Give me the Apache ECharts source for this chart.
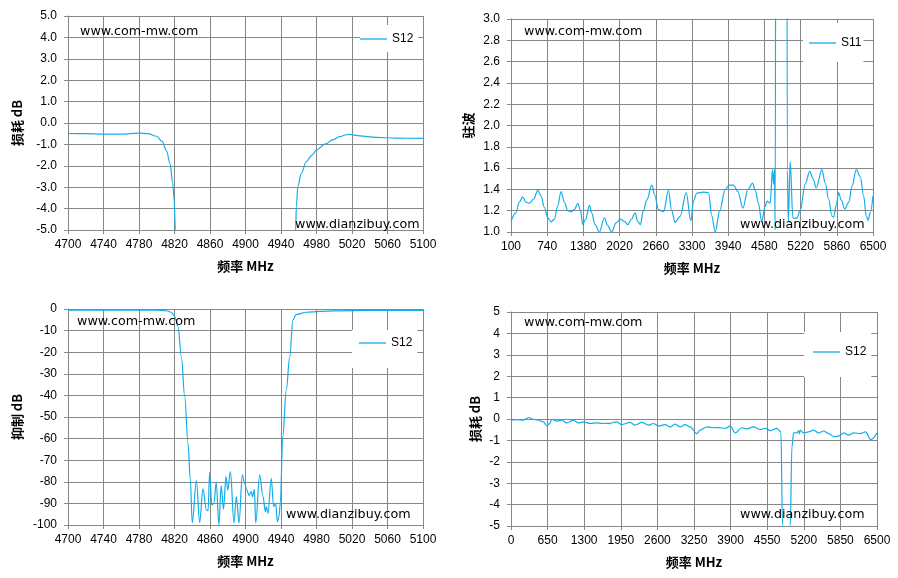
<!DOCTYPE html>
<html>
<head>
<meta charset="utf-8">
<script src="https://cdn.jsdelivr.net/npm/echarts@6/dist/echarts.min.js"></script>
<style>html,body{margin:0;padding:0;background:#fff}#c{width:898px;height:578px}</style>
</head>
<body>
<div id="c"></div>
<script>
// ---- Chart 1: S12 passband (insertion loss, dB) ----
const freq1 = [4700,4720,4740,4760,4780,4790,4800,4806,4811,4815,4818,4819.6,4821,4823,4830,4900,4950,4956.5,4957.3,4959,4963,4968.5,4975,4980,4990,4998.6,5006,5013.6,5017,5028.6,5047,5070,5100];
const loss1 = [-0.49,-0.5,-0.52,-0.52,-0.47,-0.5,-0.62,-0.86,-1.3,-1.9,-2.8,-3.6,-5.0,-8,-30,-80,-30,-5,-3.9,-2.95,-2.35,-1.8,-1.5,-1.25,-0.98,-0.78,-0.64,-0.55,-0.53,-0.6,-0.67,-0.71,-0.72];

// ---- Chart 2: S11 VSWR ----
const freq2 = [100,188,247,306,365,424,501,572,631,690,749,808,867,926,985,1044,1103,1162,1221,1280,1330,1368,1420,1486,1527,1586,1663,1751,1810,1881,1958,2034,2105,2164,2230,2294,2341,2388,2440,2501,2589,2640,2707,2796,2884,2940,3002,3091,3197,3279,3330,3386,3500,3592,3650,3710,3790,3887,3960,4034,4110,4200,4290,4371,4417,4476,4530,4594,4624,4682,4723,4741,4759,4771,4789,4968,4986,5003,5036,5084,5154,5213,5302,5381,5440,5496,5597,5656,5715,5774,5803,5850,5891,5940,6000,6071,6130,6204,6275,6334,6381,6411,6452,6500];
const vswr2 = [1.10,1.18,1.28,1.33,1.28,1.27,1.31,1.39,1.34,1.23,1.134,1.096,1.12,1.246,1.38,1.28,1.2,1.19,1.21,1.27,1.2,1.07,1.12,1.25,1.18,1.07,1.0,1.134,1.06,1.0,1.086,1.12,1.10,1.07,1.12,1.18,1.1,1.07,1.2,1.30,1.44,1.35,1.21,1.19,1.39,1.2,1.09,1.147,1.37,1.106,1.3,1.366,1.375,1.37,1.15,1.0,1.2,1.40,1.44,1.44,1.38,1.225,1.4,1.46,1.39,1.27,1.1,1.24,1.29,1.27,1.585,1.45,1.585,1.02,8,8,1.58,1.1,1.66,1.13,1.13,1.2,1.45,1.57,1.5,1.415,1.585,1.46,1.31,1.15,1.14,1.25,1.37,1.3,1.215,1.28,1.43,1.585,1.52,1.34,1.15,1.11,1.18,1.34];

// ---- Chart 3: S12 rejection (dB) ----
const freq3 = [4700,4740,4780,4800,4810.8,4816.4,4820,4824,4827.7,4831.5,4835.2,4837.8,4840,4844.6,4848.4,4852,4856,4857.8,4859.6,4862,4864.4,4867,4870,4872.6,4875.2,4878,4880,4883,4887,4889.7,4892.7,4896.4,4899,4901.6,4904,4906.5,4908,4910,4911.5,4916,4919.7,4922.4,4923.5,4925.3,4929,4931.7,4934,4935.9,4937.8,4939.2,4942,4946,4949.8,4953.5,4957,4968.5,4983.6,5000,5040,5100];
const rej3 = [-0.5,-0.5,-0.5,-0.55,-0.8,-1.5,-3.4,-8,-22,-40.5,-62,-79,-99,-79.4,-98.8,-83.3,-93,-93.5,-75.7,-90.7,-90,-80.4,-100,-81.8,-92.7,-77.6,-83.8,-75.3,-99,-86.9,-99,-76.8,-80.7,-83.8,-86.4,-84.5,-86.9,-83.5,-99,-76.8,-86.9,-93.8,-91.5,-94.6,-78.4,-91.5,-90,-98.5,-96,-90,-59,-37.4,-22,-5,-2.6,-1.5,-1.1,-0.85,-0.7,-0.6];

// ---- Chart 4: S12 wideband (insertion loss, dB) ----
const freq4 = [0,100,219,320,397,486,575,634,693,723,812,900,990,1108,1197,1286,1404,1523,1641,1760,1878,1967,2115,2204,2323,2441,2530,2619,2737,2826,2915,3004,3093,3182,3300,3360,3478,3597,3685,3804,3893,3982,4100,4189,4308,4426,4515,4604,4722,4793,4823,4850,4950,4959,4989,5019,5078,5108,5122,5137,5196,5285,5374,5463,5552,5641,5730,5819,5907,5996,6085,6204,6292,6393,6500];
const loss4 = [-0.05,-0.03,-0.05,0.07,-0.02,-0.05,-0.13,-0.32,-0.2,-0.02,-0.1,-0.05,-0.18,-0.05,-0.18,-0.13,-0.21,-0.18,-0.21,-0.2,-0.13,-0.26,-0.16,-0.29,-0.16,-0.29,-0.21,-0.33,-0.26,-0.37,-0.24,-0.37,-0.26,-0.37,-0.68,-0.52,-0.37,-0.41,-0.4,-0.44,-0.33,-0.65,-0.41,-0.46,-0.37,-0.49,-0.44,-0.55,-0.44,-0.6,-5,-40,-40,-5,-1.3,-0.65,-0.65,-0.55,-0.7,-0.52,-0.65,-0.6,-0.52,-0.65,-0.56,-0.68,-0.83,-0.8,-0.65,-0.75,-0.65,-0.68,-0.6,-0.96,-0.65];

// axis tick settings
const xMin1 = 4700, xMax1 = 5100, xStep1 = 40;
const xMin2 = 100, xMax2 = 6500, xStep2 = 640;
const xMin4 = 0, xMax4 = 6500, xStep4 = 650;

const GRID = '#868686';
const LINE = '#12AEEA';
const LATIN = 'Liberation Sans';
const CJK = 'Noto Sans CJK SC';

function pairs(fs, vs, off) { return fs.map((f, i) => [f - off, vs[i]]); }

function xAxis(idx, offset, max, step) {
  return {
    type: 'value', gridIndex: idx, min: 0, max: max - offset, interval: step,
    name: '频率 MHz', nameLocation: 'middle', nameGap: 30,
    nameTextStyle: { fontFamily: CJK, fontWeight: 'bold', fontSize: 13, color: '#000' },
    axisLine: { show: true, onZero: false, lineStyle: { color: GRID, width: 1 } },
    axisTick: { show: true, inside: false, length: 4, lineStyle: { color: GRID } },
    axisLabel: { color: '#000', fontFamily: LATIN, fontSize: 12, margin: 9,
      formatter: v => String(Math.round(v + offset)) },
    splitLine: { show: true, lineStyle: { color: GRID, width: 1 } }
  };
}
function yAxis(idx, name, min, max, step, dec, gap) {
  return {
    type: 'value', gridIndex: idx, min: min, max: max, interval: step,
    name: name, nameLocation: 'middle', nameGap: gap,
    nameTextStyle: { fontFamily: CJK, fontWeight: 'bold', fontSize: 13, color: '#000' },
    axisLine: { show: true, lineStyle: { color: GRID, width: 1 } },
    axisTick: { show: true, inside: false, length: 4, lineStyle: { color: GRID } },
    axisLabel: { color: '#000', fontFamily: LATIN, fontSize: 12, margin: 11,
      formatter: v => v.toFixed(dec) },
    splitLine: { show: true, lineStyle: { color: GRID, width: 1 } }
  };
}
function series(name, idx, data) {
  return {
    type: 'line', name: name, xAxisIndex: idx, yAxisIndex: idx, data: data,
    symbol: 'none', smooth: 0.35, smoothMonotone: 'x', clip: true,
    lineStyle: { color: LINE, width: 1.2 }, itemStyle: { color: LINE }
  };
}
function legend(name, left, top, pad) {
  return {
    data: [{ name: name, icon: 'rect' }], left: left, top: top, padding: pad,
    itemWidth: 27, itemHeight: 1.3, itemGap: 0,
    backgroundColor: '#fff', borderWidth: 0, selectedMode: false,
    textStyle: { fontFamily: LATIN, fontSize: 12, color: '#000', lineHeight: 14 }
  };
}
function wm(text, x, y) {
  return { type: 'text', left: x, top: y - 8, z: 10,
    style: { text: text, font: '12.7px "DejaVu Sans"', fill: '#000' } };
}

const chart = echarts.init(document.getElementById('c'), null, { renderer: 'canvas' });
chart.setOption({
  animation: false,
  backgroundColor: '#fff',
  grid: [
    { left: 68, right: 475, top: 16, bottom: 348 },
    { left: 511, right: 25, top: 19, bottom: 346 },
    { left: 68, right: 475, top: 309, bottom: 53 },
    { left: 511, right: 21, top: 312, bottom: 52 }
  ],
  xAxis: [
    xAxis(0, xMin1, xMax1, xStep1),
    xAxis(1, xMin2, xMax2, xStep2),
    xAxis(2, xMin1, xMax1, xStep1),
    xAxis(3, xMin4, xMax4, xStep4)
  ],
  yAxis: [
    yAxis(0, '损耗 dB', -5, 5, 1, 1, 44),
    yAxis(1, '驻波', 1, 3, 0.2, 1, 36),
    yAxis(2, '抑制 dB', -100, 0, 10, 0, 44),
    yAxis(3, '损耗 dB', -5, 5, 1, 0, 29)
  ],
  legend: [
    legend('S12', 360, 25, [7, 5, 6, 0]),
    legend('S11', 803, 23, [13, 2, 12, 6]),
    legend('S12', 352, 330, [6, 5, 18, 7]),
    legend('S12', 804, 332, [13, 5, 18, 9])
  ],
  series: [
    series('S12', 0, pairs(freq1, loss1, xMin1)),
    series('S11', 1, pairs(freq2, vswr2, xMin2)),
    series('S12', 2, pairs(freq3, rej3, xMin1)),
    series('S12', 3, pairs(freq4, loss4, xMin4))
  ],
  graphic: [
    wm('www.com-mw.com', 80, 33), wm('www.dianzibuy.com', 295, 226),
    wm('www.com-mw.com', 524, 33), wm('www.dianzibuy.com', 740, 226),
    wm('www.com-mw.com', 77, 323), wm('www.dianzibuy.com', 286, 516),
    wm('www.com-mw.com', 524, 324), wm('www.dianzibuy.com', 740, 516)
  ]
});
</script>
</body>
</html>
